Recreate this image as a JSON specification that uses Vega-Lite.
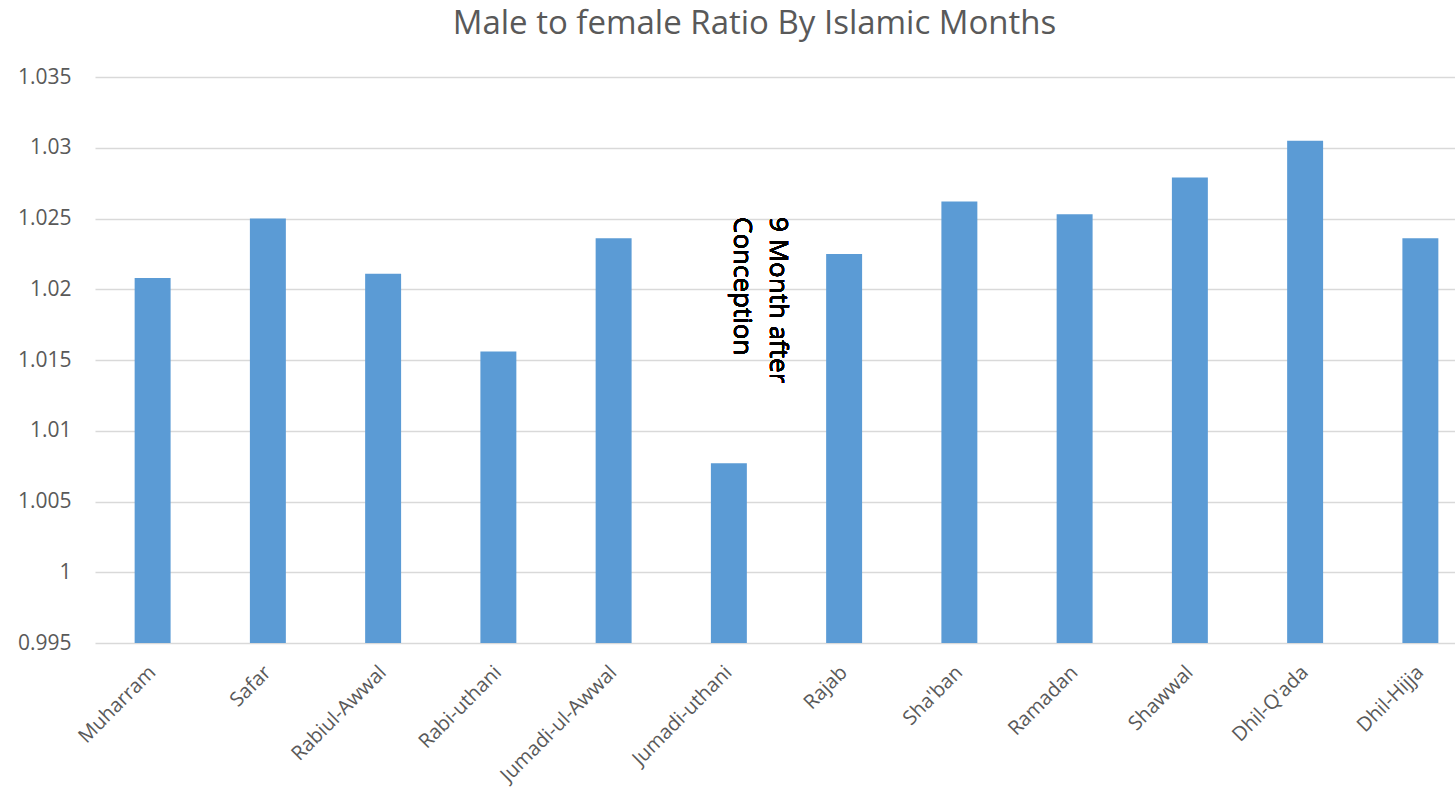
{
  "$schema": "https://vega.github.io/schema/vega-lite/v6.json",
  "autosize": {"type": "none"},
  "width": 1383,
  "height": 566,
  "padding": {"left": 95, "top": 77, "right": 0, "bottom": 148},
  "background": "white",
  "title": {
    "text": "Male to female Ratio By Islamic Months",
    "font": "Open Sans",
    "fontSize": 33,
    "fontWeight": "normal",
    "color": "#595959",
    "anchor": "middle",
    "frame": "group",
    "dx": -32,
    "offset": 25
  },
  "data": {
    "values": [
      {"month": "Muharram", "ratio": 1.0208},
      {"month": "Safar", "ratio": 1.025},
      {"month": "Rabiul-Awwal", "ratio": 1.0211},
      {"month": "Rabi-uthani", "ratio": 1.0156},
      {"month": "Jumadi-ul-Awwal", "ratio": 1.0236},
      {"month": "Jumadi-uthani", "ratio": 1.0077},
      {"month": "Rajab", "ratio": 1.0225},
      {"month": "Sha'ban", "ratio": 1.0262},
      {"month": "Ramadan", "ratio": 1.0253},
      {"month": "Shawwal", "ratio": 1.0279},
      {"month": "Dhil-Q'ada", "ratio": 1.0305},
      {"month": "Dhil-Hijja", "ratio": 1.0236}
    ]
  },
  "config": {
    "view": {"stroke": null},
    "font": "Open Sans"
  },
  "layer": [
    {
      "mark": {"type": "bar", "color": "#5B9BD5", "clip": true},
      "encoding": {
        "x": {
          "field": "month",
          "type": "nominal",
          "sort": null,
          "scale": {"paddingInner": 0.688, "paddingOuter": 0.344},
          "axis": {
            "title": null,
            "domain": false,
            "ticks": false,
            "labelAngle": -45,
            "labelAlign": "right",
            "labelBaseline": "middle",
            "labelFont": "Open Sans",
            "labelFontSize": 20,
            "labelColor": "#595959",
            "labelPadding": 26
          }
        },
        "y": {
          "field": "ratio",
          "type": "quantitative",
          "scale": {"domain": [0.995, 1.035], "zero": false, "nice": false},
          "axis": {
            "title": null,
            "domain": false,
            "ticks": false,
            "values": [0.995, 1, 1.005, 1.01, 1.015, 1.02, 1.025, 1.03, 1.035],
            "format": "~g",
            "labelFont": "Open Sans",
            "labelFontSize": 21,
            "labelColor": "#595959",
            "labelPadding": 24,
            "grid": true,
            "gridColor": "#d9d9d9",
            "gridWidth": 1.5
          }
        }
      }
    },
    {
      "mark": {
        "type": "text",
        "text": ["9 Month after", "Conception"],
        "angle": 90,
        "align": "left",
        "baseline": "top",
        "font": "Open Sans",
        "fontSize": 26,
        "lineHeight": 36,
        "color": "#000000",
        "xOffset": 62
      },
      "encoding": {
        "x": {"datum": "Jumadi-uthani"},
        "y": {"datum": 1.0251}
      }
    }
  ]
}
